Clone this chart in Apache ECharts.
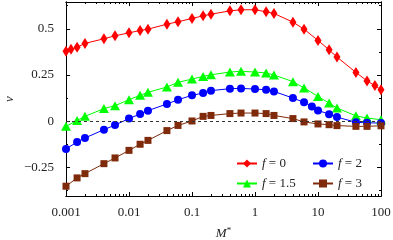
<!DOCTYPE html>
<html><head><meta charset="utf-8">
<script src="https://cdn.jsdelivr.net/npm/echarts@6/dist/echarts.min.js"></script>
<style>html,body{margin:0;padding:0;background:#fff}#c{width:393px;height:240px}</style>
</head><body><div id="c"></div>
<script>
// ---- data ----
const xRed  = [0.001,0.0012,0.0015,0.002,0.004,0.006,0.01,0.015,0.02,0.04,0.06,0.1,0.15,0.2,0.4,0.6,1,1.5,2,4,6,10,15,20,40,60,80,100];
const vRed  = [0.378,0.389,0.400,0.421,0.446,0.462,0.478,0.491,0.498,0.525,0.538,0.556,0.570,0.579,0.597,0.603,0.603,0.592,0.583,0.536,0.498,0.437,0.386,0.347,0.264,0.218,0.193,0.170];
const xGreen = [0.001,0.0015,0.002,0.004,0.006,0.01,0.015,0.02,0.04,0.06,0.1,0.15,0.2,0.4,0.6,1,1.5,2,4,6,10,15,20,40,60,100];
const vGreen = [-0.028,0.004,0.026,0.068,0.084,0.116,0.140,0.156,0.185,0.210,0.228,0.242,0.251,0.266,0.270,0.266,0.261,0.250,0.214,0.180,0.134,0.098,0.071,0.029,0.017,0.008];
const xBlue = [0.001,0.0015,0.002,0.004,0.006,0.01,0.015,0.02,0.04,0.06,0.1,0.15,0.2,0.4,0.6,1,1.5,2,4,6,8,10,15,20,40,60,100];
const vBlue = [-0.150,-0.113,-0.091,-0.046,-0.021,0.014,0.039,0.057,0.093,0.116,0.140,0.152,0.165,0.176,0.177,0.174,0.170,0.161,0.125,0.102,0.080,0.058,0.038,0.022,-0.006,-0.009,-0.010];
const xBrown = [0.001,0.0015,0.002,0.004,0.006,0.01,0.015,0.02,0.04,0.06,0.1,0.15,0.2,0.4,0.6,1,1.5,2,4,6,10,15,20,40,60,100];
const vBrown = [-0.352,-0.307,-0.284,-0.230,-0.199,-0.158,-0.125,-0.104,-0.051,-0.023,0.001,0.026,0.031,0.041,0.044,0.044,0.041,0.031,0.014,-0.004,-0.015,-0.019,-0.024,-0.028,-0.028,-0.025];
const seriesNames = ['f = 0','f = 1.5','f = 2','f = 3'];
const xMajorTicks = [0.001,0.01,0.1,1,10,100];
const xTickLabels = ['0.001','0.01','0.1','1','10','100'];
const yMajorTicks = [-0.25,0,0.25,0.5];
const yTickLabels = ['\u22120.25','0','0.25','0.5'];
const yMinorTicks = [-0.375,-0.125,0.125,0.375,0.625];

// ---- build ----
const xMinorTicks = [];
for (let e = -3; e < 2; e++) for (let k = 2; k <= 9; k++) xMinorTicks.push(+(k * Math.pow(10, e)).toPrecision(3));
const FONT = 'Liberation Serif';
const X0 = 0.001, X1 = 100, Y0 = -0.405, Y1 = 0.645;
const lineAx = {show: true, onZero: false, lineStyle: {color: '#000', width: 1}};
function xa(pos, ticks, len, labels) {
  return {type: 'log', logBase: 10, min: X0, max: X1, position: pos,
    axisLine: lineAx, splitLine: {show: false},
    axisTick: {show: true, inside: true, length: len, customValues: ticks, lineStyle: {color: '#000'}},
    axisLabel: labels ? {show: true, customValues: xMajorTicks, fontFamily: FONT, fontSize: 13, color: '#222', margin: 10,
      formatter: v => { const i = xMajorTicks.findIndex(t => Math.abs(Math.log10(t) - Math.log10(v)) < 1e-6); return i >= 0 ? xTickLabels[i] : ''; }} : {show: false}
  };
}
function ya(pos, ticks, len, labels) {
  return {type: 'value', min: Y0, max: Y1, position: pos,
    axisLine: lineAx, splitLine: {show: false},
    axisTick: {show: true, inside: true, length: len, customValues: ticks, lineStyle: {color: '#000'}},
    axisLabel: labels ? {show: true, customValues: yMajorTicks, fontFamily: FONT, fontSize: 13, color: '#222', margin: 12,
      formatter: v => { const i = yMajorTicks.findIndex(t => Math.abs(t - v) < 1e-6); return i >= 0 ? yTickLabels[i] : ''; }} : {show: false}
  };
}
const xAxes = [xa('bottom', xMajorTicks, 4, true), xa('bottom', xMinorTicks, 2, false), xa('top', xMajorTicks, 4, false), xa('top', xMinorTicks, 2, false)];
xAxes[0].name = '{i|M}{s|*}';
xAxes[0].nameLocation = 'middle';
xAxes[0].nameGap = 30;
xAxes[0].nameMoveOverlap = false;
xAxes[0].nameTextStyle = {rich: {i: {fontFamily: FONT, fontStyle: 'italic', fontSize: 13, color: '#222'}, s: {fontFamily: FONT, fontSize: 9, color: '#222', verticalAlign: 'top', padding: [0,0,6,0]}}};
const yAxes = [ya('left', yMajorTicks, 4, true), ya('left', yMinorTicks, 2, false), ya('right', yMajorTicks, 4, false), ya('right', yMinorTicks, 2, false)];
yAxes[0].name = 'v';
yAxes[0].nameLocation = 'middle';
yAxes[0].nameGap = 50;
yAxes[0].nameMoveOverlap = false;
yAxes[0].nameTextStyle = {fontFamily: FONT, fontStyle: 'italic', fontSize: 13, color: '#222'};

function mk(name, xs, vs, color, symbol, size) {
  return {name, type: 'line', xAxisIndex: 0, yAxisIndex: 0, data: xs.map((x, i) => [x, vs[i]]),
    symbol, symbolSize: size, showSymbol: true, color,
    lineStyle: {color, width: 1}, itemStyle: {color}, animation: false};
}
const s = [
  mk(seriesNames[0], xRed, vRed, '#ff0000', 'diamond', [7, 11]),
  mk(seriesNames[1], xGreen, vGreen, '#00ff00', 'triangle', [10, 9]),
  mk(seriesNames[2], xBlue, vBlue, '#0000ff', 'circle', 8),
  mk(seriesNames[3], xBrown, vBrown, '#7f2a0a', 'rect', 7)
];
s[0].markLine = {silent: true, symbol: 'none', label: {show: false}, animation: false,
  lineStyle: {color: '#333', type: [3, 3], width: 1}, data: [{yAxis: 0}]};
s[0].z = 1;

const legendText = {fontFamily: FONT, fontSize: 13, color: '#222',
  rich: {i: {fontFamily: FONT, fontStyle: 'italic', fontSize: 13, color: '#222'}, n: {fontFamily: FONT, fontSize: 13, color: '#222'}}};
const fmt = n => '{i|f}{n|' + n.slice(1) + '}';
const leg = (data, left) => ({data, orient: 'vertical', left, top: 152, itemWidth: 20, itemHeight: 10, itemGap: 7,
  textStyle: legendText, formatter: fmt, selectedMode: false});

const chart = echarts.init(document.getElementById('c'), null, {renderer: 'canvas'});
chart.setOption({
  animation: false,
  backgroundColor: '#fff',
  grid: {left: 66, right: 12, top: 2, bottom: 44, containLabel: false, outerBoundsMode: 'none'},
  xAxis: xAxes,
  yAxis: yAxes,
  legend: [leg([seriesNames[0], seriesNames[1]], 231), leg([seriesNames[2], seriesNames[3]], 307)],
  series: s
});
</script></body></html>
